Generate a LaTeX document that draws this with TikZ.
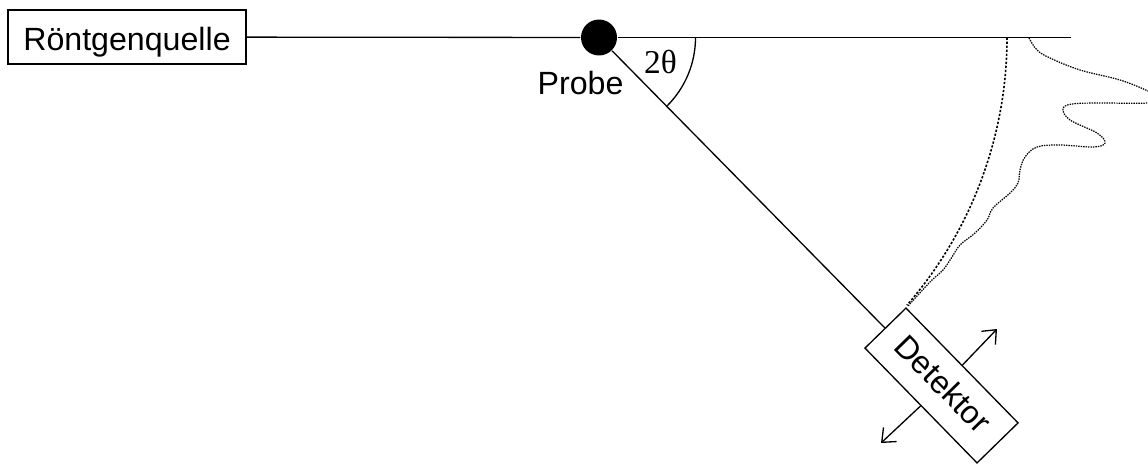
\documentclass[tikz,border=0pt]{standalone}
\usepackage{fontspec}
\setmainfont{Liberation Sans}
\newfontfamily\winkelfont{Liberation Serif}
\usetikzlibrary{arrows.meta}

\begin{document}
\begin{tikzpicture}[x=0.02cm,y=0.02cm,line width=0.75pt,
    schrift/.style={font=\fontsize{18.3}{20}\selectfont,inner sep=0pt},
    kasten/.style={draw,schrift,fill=white,minimum height=1.08cm},
    pfeil/.style={-{Straight Barb[length=6.5pt,width=11pt]}}]
        \useasboundingbox[fill=white] (0,0) rectangle (1148,-463);
        \node[kasten,minimum width=4.76cm,text height=14.8pt,text depth=0pt] (quelle) at (127,-37) {Röntgenquelle};
        \node[circle,fill=black,minimum size=0.72cm,inner sep=0pt] (probe) at (599,-37.5) {};
        \coordinate (strahlende) at (1071,-37.5);
        \draw (quelle) -- (probe);
        \draw (probe) -- (strahlende);
        \node[kasten,minimum width=3.21cm,minimum height=1.146cm,text depth=3pt,rotate=-45.7] (detektor) at (941.5,-385.5) {Detektor};
        \draw (probe) -- (detektor);
        \node[schrift] (probetext) at (580.5,-83) {Probe};
        \node[font=\fontsize{19}{20}\winkelfont,inner sep=0pt] (winkel) at (660.5,-62) {2θ};
        \draw (695.5,-37.5) arc (0:-45:96.5);
        % Detektorbewegung
        \coordinate (hoch) at (997,-329);
        \coordinate (runter) at (881,-443);
        \draw[pfeil] (detektor.north) -- (hoch);
        \draw[pfeil] (detektor.south) -- (runter);
        % Messkreis und Intensitaet
        \draw[line width=0.9pt,dash pattern=on 1.3pt off 1pt] (1007,-37.5) arc (0:-41:408);
        \draw[line width=0.7pt,dash pattern=on 0.8pt off 0.6pt] plot[smooth,tension=0.6] coordinates {
            (1029,-38) (1037,-50) (1050,-58) (1080,-70) (1120,-80) (1148,-91) (1160,-98)
            (1148,-103) (1100,-103) (1072,-104) (1063,-109) (1070,-120) (1097,-133) (1105,-143)
            (1093,-147) (1060,-145) (1037,-147) (1025,-157) (1020,-170) (1018,-183) (1010,-193)
            (993,-208) (987,-220) (975,-233) (960,-245) (952,-257) (943,-270) (930,-282) (908,-306)};
      \end{tikzpicture}
\end{document}
